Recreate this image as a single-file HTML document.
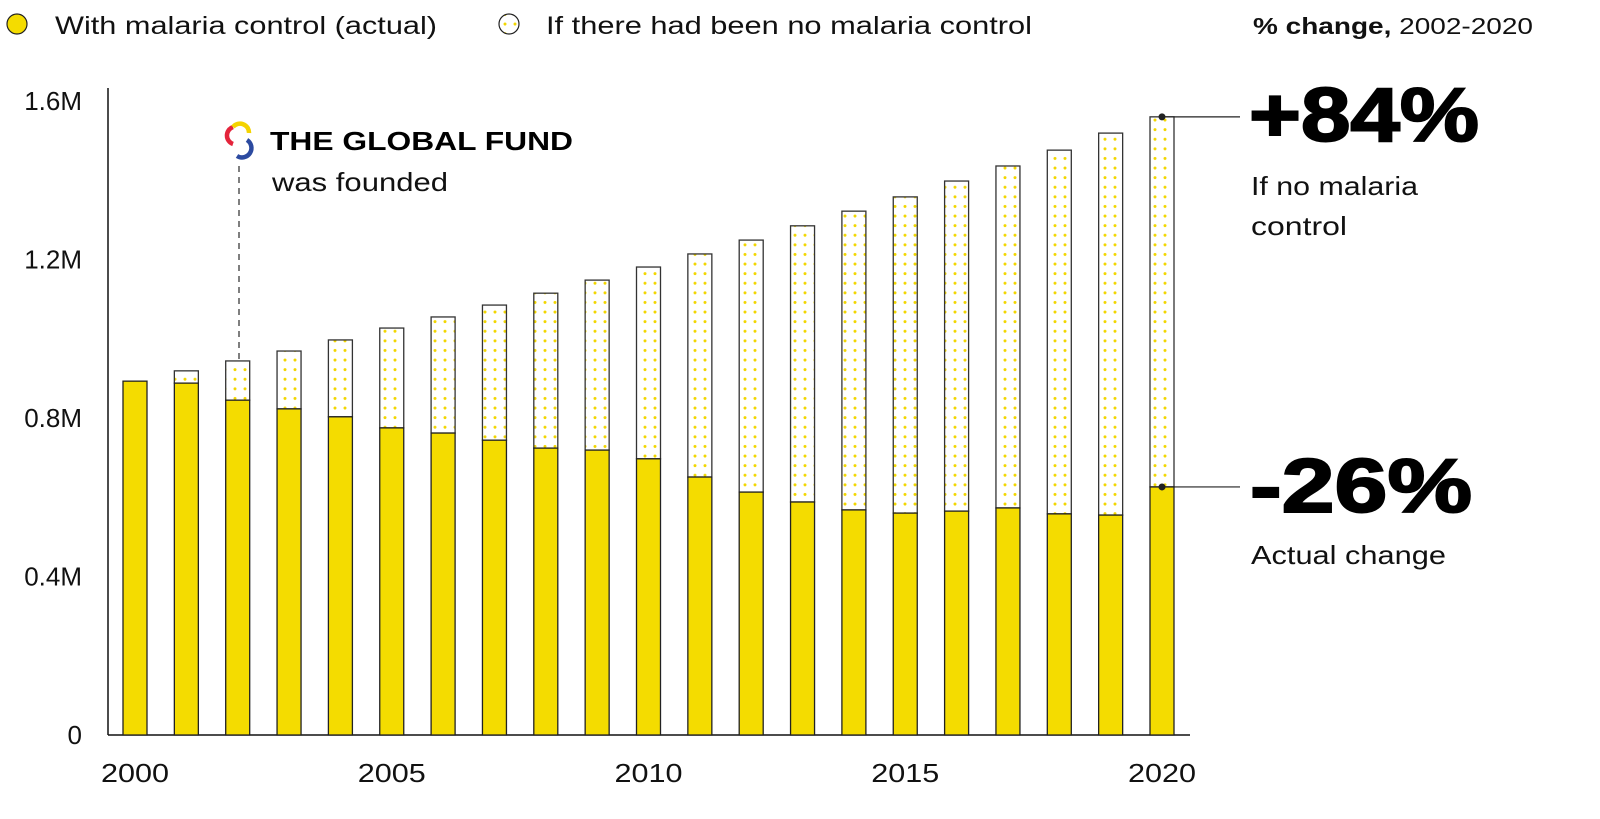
<!DOCTYPE html>
<html><head><meta charset="utf-8"><style>
body{margin:0;background:#fff;font-family:"Liberation Sans",sans-serif;}
svg{display:block}
</style></head><body>
<svg id="chart" width="1600" height="819" viewBox="0 0 1600 819" xmlns="http://www.w3.org/2000/svg">
<defs>
<pattern id="dots" patternUnits="userSpaceOnUse" x="0" y="0" width="10" height="9.6">
<circle cx="5" cy="4.8" r="1.5" fill="#f2d600"/>
</pattern>
</defs>
<g>
<circle cx="17" cy="24" r="10" fill="#f4dc00" stroke="#222" stroke-width="1.2"/>
<text x="55" y="34" font-size="25" fill="#111" textLength="382" lengthAdjust="spacingAndGlyphs">With malaria control (actual)</text>
<circle cx="509" cy="24" r="10" fill="url(#dots)" stroke="#222" stroke-width="1.2"/>
<text x="546" y="34" font-size="25" fill="#111" textLength="486" lengthAdjust="spacingAndGlyphs">If there had been no malaria control</text>
</g>
<text x="1253" y="34" font-size="23" fill="#111" textLength="280" lengthAdjust="spacingAndGlyphs"><tspan font-weight="bold">% change,</tspan> 2002-2020</text>
<g id="axes"></g>
<g id="bars"></g>
<g>
<line x1="239" y1="166" x2="239" y2="360" stroke="#555" stroke-width="1.5" stroke-dasharray="6,5"/>
<path d="M233 127 a9 9 0 0 0 0 17" fill="none" stroke="#e4243b" stroke-width="4.5"/>
<path d="M233 127 a9 9 0 0 1 16 6" fill="none" stroke="#f4d300" stroke-width="4.5"/>
<path d="M247 140 a9 9 0 0 1 -10 16" fill="none" stroke="#2c4aa0" stroke-width="4.5"/>
<text x="270" y="150" font-size="26" font-weight="bold" fill="#000" textLength="303" lengthAdjust="spacingAndGlyphs">THE GLOBAL FUND</text>
<text x="272" y="191" font-size="26" fill="#111" textLength="176" lengthAdjust="spacingAndGlyphs">was founded</text>
</g>
<g>
<line id="lineTop" stroke="#222" stroke-width="1.2"/>
<circle id="dotTop" r="3.5" fill="#222"/>
<line id="lineBot" stroke="#222" stroke-width="1.2"/>
<circle id="dotBot" r="3.5" fill="#222"/>
<text x="1249" y="141" font-size="76" font-weight="bold" fill="#000" stroke="#000" stroke-width="2" textLength="230" lengthAdjust="spacingAndGlyphs">+84%</text>
<text x="1251" y="195" font-size="26" fill="#111" textLength="167" lengthAdjust="spacingAndGlyphs">If no malaria</text>
<text x="1251" y="235" font-size="26" fill="#111" textLength="96" lengthAdjust="spacingAndGlyphs">control</text>
<text x="1250" y="512" font-size="76" font-weight="bold" fill="#000" stroke="#000" stroke-width="2" textLength="222" lengthAdjust="spacingAndGlyphs">-26%</text>
<text x="1251" y="564" font-size="26" fill="#111" textLength="195" lengthAdjust="spacingAndGlyphs">Actual change</text>
</g>
</svg>
<script>
const years=[2000,2001,2002,2003,2004,2005,2006,2007,2008,2009,2010,2011,2012,2013,2014,2015,2016,2017,2018,2019,2020];
const actual=[0.893,0.888,0.845,0.823,0.803,0.775,0.762,0.744,0.724,0.719,0.697,0.651,0.613,0.588,0.568,0.560,0.565,0.573,0.558,0.555,0.626];
const noControl=[0.893,0.919,0.944,0.969,0.997,1.027,1.055,1.085,1.115,1.148,1.181,1.214,1.249,1.285,1.322,1.358,1.398,1.436,1.476,1.519,1.560];
const yTicks=[0,0.4,0.8,1.2,1.6];
const yTickLabels=["0","0.4M","0.8M","1.2M","1.6M"];
const xTickYears=[2000,2005,2010,2015,2020];

const NS="http://www.w3.org/2000/svg";
const y=v=>735-v*396.25;
const x=yr=>135+(yr-2000)*51.35;
const bw=24;
function mk(tag,attrs,parent){const e=document.createElementNS(NS,tag);for(const k in attrs)e.setAttribute(k,attrs[k]);parent.appendChild(e);return e;}
const axes=document.getElementById('axes'),bars=document.getElementById('bars');
let l=mk('line',{x1:108,y1:88,x2:108,y2:735,stroke:'#111','stroke-width':1.5},axes);


l=mk('line',{x1:108,y1:735,x2:1190,y2:735,stroke:'#111','stroke-width':1.5},axes);


yTicks.forEach((t,i)=>{const e=mk('text',{x:82,y:y(t)+9,'font-size':26,'text-anchor':'end',fill:'#111'},axes);e.textContent=yTickLabels[i];

});
xTickYears.forEach(yr=>{const e=mk('text',{x:x(yr),y:782,'font-size':26,'text-anchor':'middle',fill:'#111',textLength:68,lengthAdjust:'spacingAndGlyphs'},axes);e.textContent=yr;

});
years.forEach((yr,i)=>{
 const cx=x(yr);
 if(noControl[i]>actual[i]){
  const r=mk('rect',{x:cx-bw/2,y:y(noControl[i]),width:bw,height:y(actual[i])-y(noControl[i]),fill:'url(#dots)',stroke:'#333','stroke-width':1.3},bars);
  
  
 }
 const a=mk('rect',{x:cx-bw/2,y:y(actual[i]),width:bw,height:735-y(actual[i]),fill:'#f4dc00',stroke:'#222','stroke-width':1.3},bars);
 
 
});
const last=years.length-1,lx=x(years[last]);
const set=(id,o)=>{const e=document.getElementById(id);for(const k in o)e.setAttribute(k,o[k]);};
set('lineTop',{x1:lx,x2:1240,y1:y(noControl[last]),y2:y(noControl[last])});
set('dotTop',{cx:lx,cy:y(noControl[last])});
set('lineBot',{x1:lx,x2:1240,y1:y(actual[last]),y2:y(actual[last])});
set('dotBot',{cx:lx,cy:y(actual[last])});
</script>
</body></html>
